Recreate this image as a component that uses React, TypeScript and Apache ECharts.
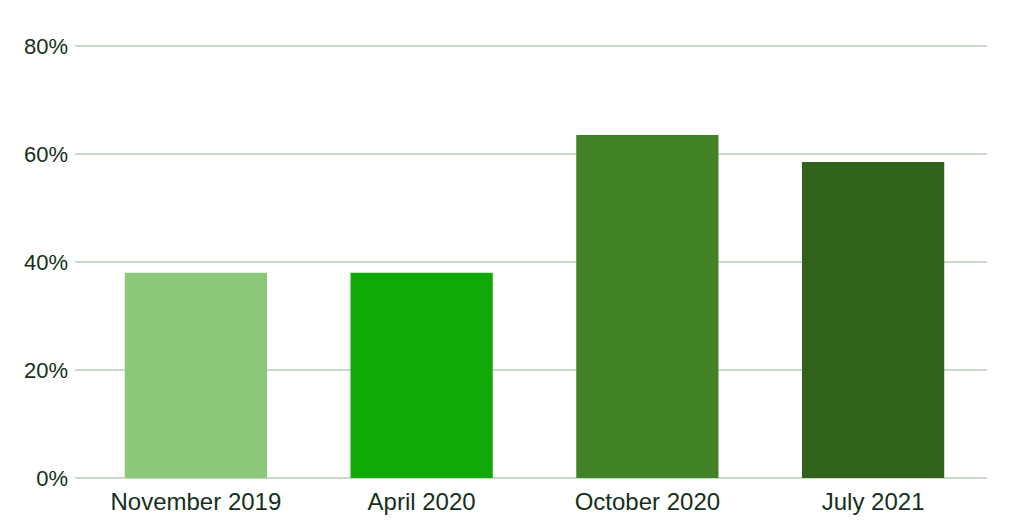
import React, { useEffect, useRef } from "react";
import * as echarts from "echarts";

const categories = ["November 2019", "April 2020", "October 2020", "July 2021"];
const values = [38, 38, 63.5, 58.5];
const barColors = ["#8cc87a", "#11a907", "#418226", "#30621c"];
const yTicks = [0, 20, 40, 60, 80];

export default function App() {
  const ref = useRef<HTMLDivElement>(null);
  useEffect(() => {
    if (!ref.current) return;
    const chart = echarts.init(ref.current, null, { renderer: "svg" });
    const textColor = "#15301a";
    const font = "'Liberation Sans', Arial, sans-serif";
    chart.setOption({
      animation: false,
      grid: [
        { left: 83, right: 38, top: 46, bottom: 51, containLabel: false },
        { left: 75, right: 37, top: 46, bottom: 51, containLabel: false },
      ],
      xAxis: [
        {
          type: "category",
          gridIndex: 0,
          data: categories,
          axisLine: { show: false },
          axisTick: { show: false },
          axisLabel: { color: textColor, fontSize: 24, fontFamily: font, margin: 11 },
        },
        {
          type: "category",
          gridIndex: 1,
          data: categories,
          show: false,
        },
      ],
      yAxis: [
        {
          type: "value",
          gridIndex: 0,
          min: yTicks[0],
          max: yTicks[yTicks.length - 1],
          interval: 20,
          splitLine: { show: false },
          axisLine: { show: false },
          axisTick: { show: false },
          axisLabel: {
            color: textColor,
            fontSize: 22,
            fontFamily: font,
            margin: 15,
            formatter: (v: number) => `${v}%`,
          },
        },
        {
          type: "value",
          gridIndex: 1,
          min: yTicks[0],
          max: yTicks[yTicks.length - 1],
          interval: 20,
          axisLabel: { show: false },
          axisLine: { show: false },
          axisTick: { show: false },
          splitLine: { show: true, lineStyle: { color: "#cbd8cb", width: 2 } },
        },
      ],
      series: [
        {
          type: "bar",
          xAxisIndex: 0,
          yAxisIndex: 0,
          barWidth: "63%",
          data: values.map((v, i) => ({ value: v, itemStyle: { color: barColors[i] } })),
          z: 3,
        },
      ],
    });
    return () => chart.dispose();
  }, []);
  return (
    <div
      ref={ref}
      style={{ position: "fixed", left: 0, top: 0, width: 1024, height: 529, background: "#fff" }}
    />
  );
}
